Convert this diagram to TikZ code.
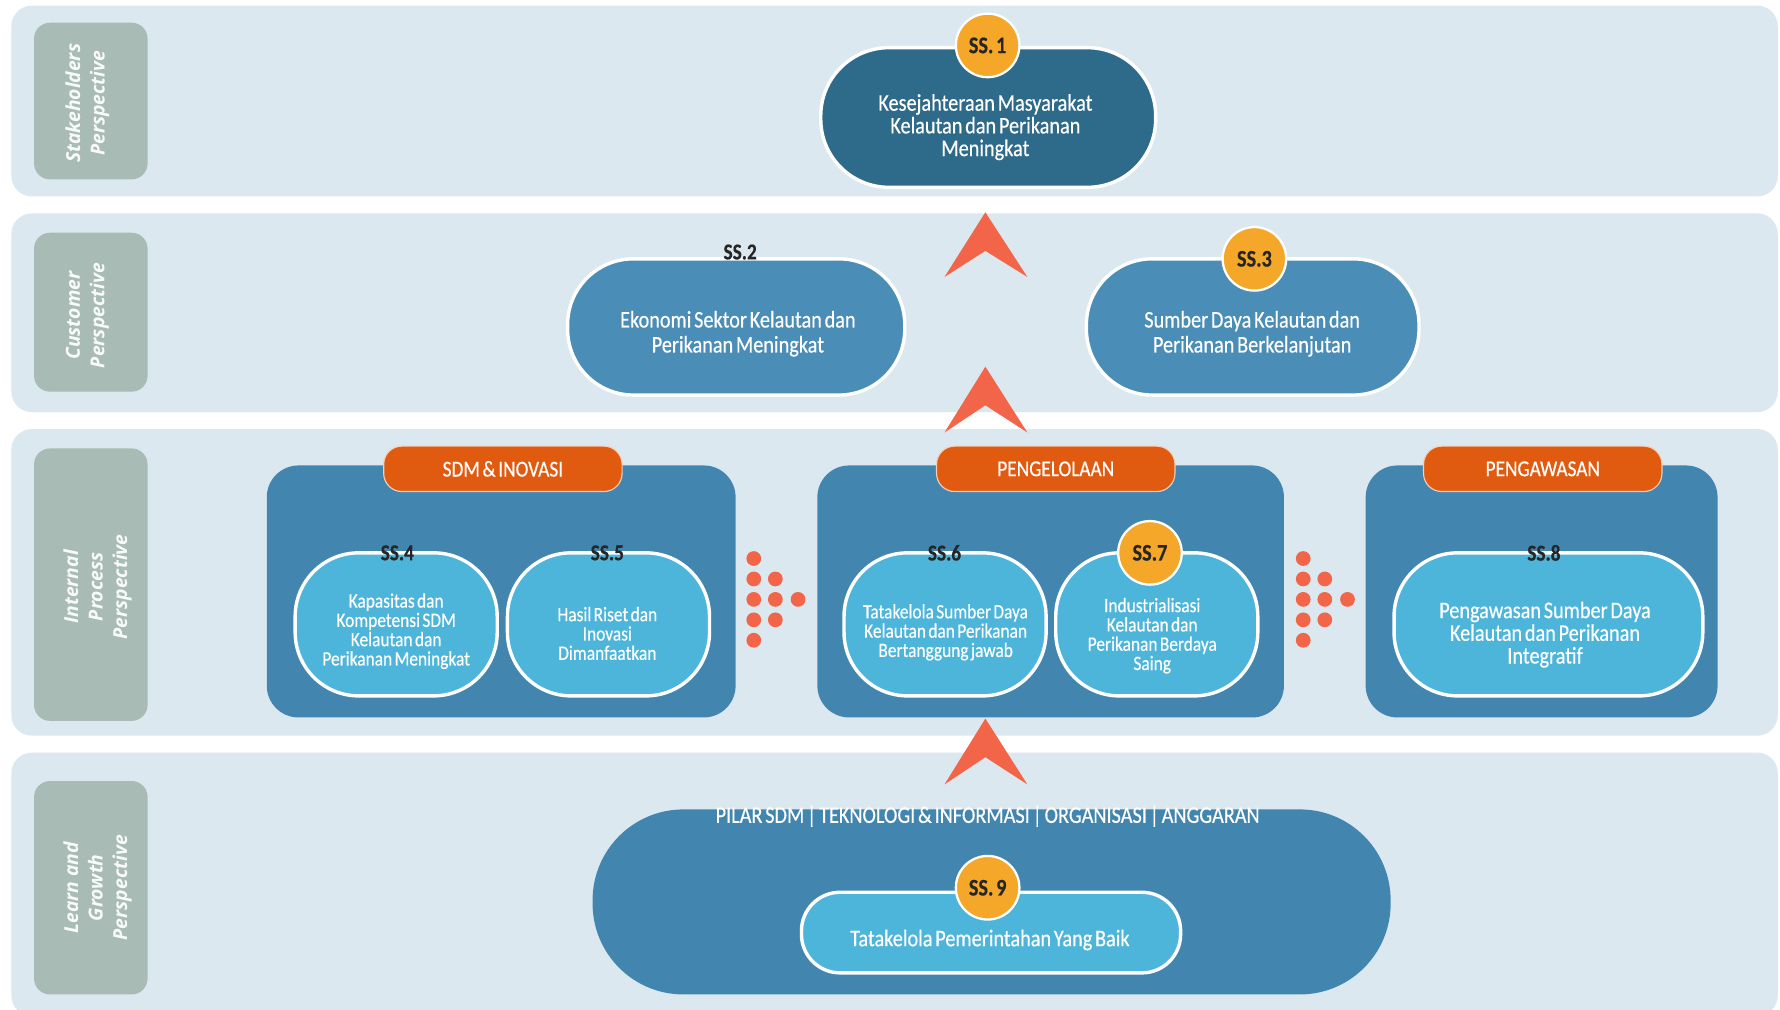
\documentclass[tikz,border=0pt]{standalone}
\usepackage{fontspec}
\setmainfont{Carlito}
\newfontfamily\condfont[FakeStretch=0.85, FakeBold=0.4, WordSpace=0.6]{Carlito}
\newfontfamily\sidefont{Open Sans}
\definecolor{bandc}{HTML}{DCE8EF}
\definecolor{sidec}{HTML}{A9BBB5}
\definecolor{darkc}{HTML}{2E6A8A}
\definecolor{midc}{HTML}{4A8DB6}
\definecolor{groupc}{HTML}{4286B0}
\definecolor{lightc}{HTML}{4DB4DA}
\definecolor{tabc}{HTML}{E05A10}
\definecolor{badgec}{HTML}{F5A72A}
\definecolor{arrc}{HTML}{F26549}
\begin{document}
\begin{tikzpicture}[x=1pt,y=-1pt,
  band/.style={fill=bandc, rounded corners=18pt},
  sidebox/.style={fill=sidec, rounded corners=14pt},
  sidetxt/.style={rotate=90, text=white!92!sidec, align=center,
    font=\sidefont\bfseries\itshape\fontsize{17}{21.5}\selectfont},
  stad/.style={draw=white, line width=3pt, text=white, align=center, inner sep=0pt},
  bigtxt/.style={font=\condfont\fontsize{21}{20}\selectfont},
  smalltxt/.style={font=\condfont\fontsize{18}{17}\selectfont},
  badge/.style={circle, fill=badgec, draw=white, line width=2pt, minimum size=56pt, inner sep=0pt,
    font=\condfont\bfseries\fontsize{21}{20}\selectfont, text=black!85},
  sslabel/.style={font=\condfont\bfseries\fontsize{20}{20}\selectfont, text=black!85, inner sep=0pt},
  tab/.style={fill=tabc, draw=white!70!tabc, line width=1pt, rounded corners=16pt, minimum width=210pt,
    minimum height=40pt, text=white, font=\condfont\fontsize{20}{20}\selectfont},
  dot/.style={circle, fill=arrc, minimum size=13pt, inner sep=0pt},
  chev/.style={fill=arrc}
]
\useasboundingbox (0,0) rectangle (1568,889);
\fill[white] (0,0) rectangle (1568,889);
% bands
\fill[band] (10,5) rectangle (1566,173);
\fill[band] (10,188) rectangle (1566,363);
\fill[band] (10,378) rectangle (1566,648);
\fill[band] (10,663) rectangle (1566,895);
% side labels
\fill[sidebox] (30,20) rectangle (130,158);
\fill[sidebox] (30,205) rectangle (130,345);
\fill[sidebox] (30,395) rectangle (130,635);
\fill[sidebox] (30,688) rectangle (130,876);
\node[sidetxt] (l1) at (77,91) {Stakeholders\\Perspective};
\node[sidetxt] (l2) at (77,278) {Customer\\Perspective};
\node[sidetxt] (l3) at (86,517) {Internal\\Process\\Perspective};
\node[sidetxt] (l4) at (86,782) {Learn and\\Growth\\Perspective};
% SS1
\node[stad, fill=darkc, minimum width=295pt, minimum height=123pt, rounded corners=60pt] (ss1) at (870.5,103.5) {};
\node[text=white, align=center, bigtxt, inner sep=0pt] (ss1t) at (868,112)
  {Kesejahteraan Masyarakat\\Kelautan dan Perikanan\\Meningkat};
\node[badge] (b1) at (870,40) {SS. 1};
% arrow 1
\fill[chev] (868,187) -- (905,244) -- (868,221) -- (832,244) -- cycle;
% SS2 SS3
\node[stad, fill=midc, minimum width=297pt, minimum height=120pt, rounded corners=58pt] (ss2) at (648.5,288) {};
\node[text=white, align=center, bigtxt, inner sep=0pt] (ss2t) at (650,294)
  {Ekonomi Sektor Kelautan dan\\[2pt]Perikanan Meningkat};
\node[sslabel] (lb2) at (652,222) {SS.2};
\node[stad, fill=midc, minimum width=293pt, minimum height=120pt, rounded corners=58pt] (ss3) at (1103.5,288) {};
\node[text=white, align=center, bigtxt, inner sep=0pt] (ss3t) at (1103,294)
  {Sumber Daya Kelautan dan\\[2pt]Perikanan Berkelanjutan};
\node[badge] (b3) at (1105,228) {SS.3};
% arrow 2
\fill[chev] (868,323) -- (905,381) -- (868,357) -- (832,381) -- cycle;
% groups
\fill[groupc, rounded corners=28pt] (235,410) rectangle (648,632);
\fill[groupc, rounded corners=28pt] (720,410) rectangle (1131,632);
\fill[groupc, rounded corners=28pt] (1203,410) rectangle (1513,632);
\node[tab] (t1) at (443,413) {SDM \& INOVASI};
\node[tab] (t2) at (930,413) {PENGELOLAAN};
\node[tab] (t3) at (1359,413) {PENGAWASAN};
% inner nodes
\node[stad, fill=lightc, minimum width=178pt, minimum height=126pt, rounded corners=56pt] (ss4) at (349,550) {};
\node[text=white, align=center, smalltxt, inner sep=0pt] (ss4t) at (349,556)
  {Kapasitas dan\\Kompetensi SDM\\Kelautan dan\\Perikanan Meningkat};
\node[sslabel] (lb4) at (350,487) {SS.4};
\node[stad, fill=lightc, minimum width=178pt, minimum height=126pt, rounded corners=56pt] (ss5) at (536,550) {};
\node[text=white, align=center, smalltxt, inner sep=0pt] (ss5t) at (535,558)
  {Hasil Riset dan\\Inovasi\\Dimanfaatkan};
\node[sslabel] (lb5) at (535,487) {SS.5};
\node[stad, fill=lightc, minimum width=178pt, minimum height=126pt, rounded corners=56pt] (ss6) at (832.5,550) {};
\node[text=white, align=center, smalltxt, inner sep=0pt] (ss6t) at (833,557)
  {Tatakelola Sumber Daya\\Kelautan dan Perikanan\\Bertanggung jawab};
\node[sslabel] (lb6) at (832,487) {SS.6};
\node[stad, fill=lightc, minimum width=178pt, minimum height=126pt, rounded corners=56pt] (ss7) at (1019,550) {};
\node[text=white, align=center, smalltxt, inner sep=0pt] (ss7t) at (1015,560)
  {Industrialisasi\\Kelautan dan\\Perikanan Berdaya\\Saing};
\node[badge] (b7) at (1013,487) {SS.7};
\node[stad, fill=lightc, minimum width=272pt, minimum height=126pt, rounded corners=56pt] (ss8) at (1364,550) {};
\node[text=white, align=center, bigtxt, inner sep=0pt] (ss8t) at (1361,559)
  {Pengawasan Sumber Daya\\Kelautan dan Perikanan\\Integratif};
\node[sslabel] (lb8) at (1360,487) {SS.8};
% dots
\foreach \dx in {0,484}{
  \foreach \yy in {492,510,528,546,564} \node[dot] at (664+\dx,\yy) {};
  \foreach \yy in {510,528,546} \node[dot] at (683+\dx,\yy) {};
  \node[dot] at (703+\dx,528) {};
}
% arrow 3
\fill[chev] (868,633) -- (905,691) -- (868,667) -- (832,691) -- cycle;
% learn & growth
\node[fill=groupc, minimum width=703pt, minimum height=163pt, rounded corners=80pt] (big) at (873.5,794.5) {};
\node[text=white, font=\condfont\fontsize{21}{20}\selectfont, inner sep=0pt] (pilar) at (870,719)
  {PILAR SDM | TEKNOLOGI \& INFORMASI | ORGANISASI | ANGGARAN};
\node[stad, fill=lightc, minimum width=334pt, minimum height=71pt, rounded corners=34pt] (ss9) at (873,821.5) {};
\node[text=white, align=center, bigtxt, inner sep=0pt] (ss9t) at (872,828)
  {Tatakelola Pemerintahan Yang Baik};
\node[badge] (b9) at (870,782) {SS. 9};
\end{tikzpicture}
\end{document}
